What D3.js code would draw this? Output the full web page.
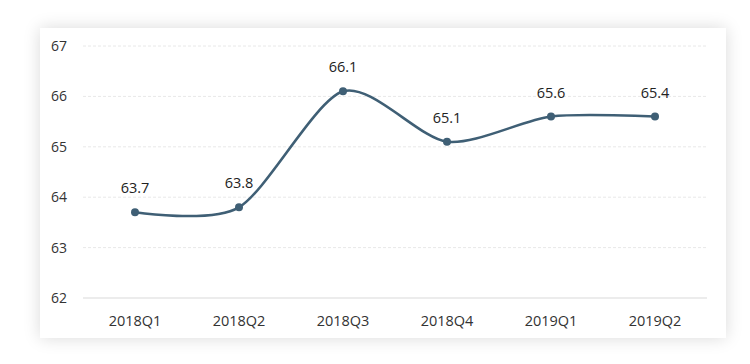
<!DOCTYPE html>
<html>
<head>
<meta charset="utf-8">
<script src="https://cdn.jsdelivr.net/npm/d3@7"></script>
<style>
  body { margin: 0; background: #fff; font-family: "Segoe UI", "Open Sans", "Noto Sans", sans-serif; }
  .card {
    position: absolute; left: 40px; top: 28px; width: 686px; height: 310px;
    background: #fff; box-shadow: 0 0 16px rgba(0,0,0,0.15);
  }
  svg { position: absolute; left: 0; top: 0; }
</style>
</head>
<body>
<div class="card"></div>
<svg id="chart" width="750" height="364"></svg>
<script>
// quarters and values
const quarters = ['2018Q1', '2018Q2', '2018Q3', '2018Q4', '2019Q1', '2019Q2'];
const values = [63.7, 63.8, 66.1, 65.1, 65.6, 65.6];
const labels = ['63.7', '63.8', '66.1', '65.1', '65.6', '65.4'];
const yTicks = [62, 63, 64, 65, 66, 67];

const svg = d3.select('#chart');
const plotLeft = 83, plotRight = 707, plotTop = 46, plotBottom = 298;

const x = d3.scaleBand().domain(quarters).range([plotLeft, plotRight]);
const y = d3.scaleLinear().domain([62, 67]).range([plotBottom, plotTop]);

// grid lines
svg.append('g').selectAll('line').data(yTicks).enter().append('line')
  .attr('x1', plotLeft).attr('x2', plotRight)
  .attr('y1', d => y(d)).attr('y2', d => y(d))
  .attr('stroke', d => d === 62 ? '#d9d9d9' : '#e8e8e8')
  .attr('stroke-dasharray', d => d === 62 ? null : '3,2');

// y labels
svg.append('g').selectAll('text').data(yTicks).enter().append('text')
  .attr('x', 67).attr('y', d => y(d)).attr('dy', '0.35em')
  .attr('text-anchor', 'end')
  .attr('font-size', 14).attr('fill', '#333')
  .text(d => d);

// x labels
svg.append('g').selectAll('text').data(quarters).enter().append('text')
  .attr('x', d => x(d) + x.bandwidth() / 2).attr('y', 321).attr('dy', '0.35em')
  .attr('text-anchor', 'middle')
  .attr('font-size', 14.5).attr('fill', '#333')
  .text(d => d);

const pts = quarters.map((q, i) => [x(q) + x.bandwidth() / 2, y(values[i])]);

const line = d3.line().curve(d3.curveCardinal.tension(0.2));
svg.append('path').attr('d', line(pts))
  .attr('fill', 'none').attr('stroke', '#3f5f75').attr('stroke-width', 2.6);

svg.append('g').selectAll('circle').data(pts).enter().append('circle')
  .attr('cx', d => d[0]).attr('cy', d => d[1]).attr('r', 4)
  .attr('fill', '#3f5f75');

svg.append('g').selectAll('text').data(pts).enter().append('text')
  .attr('x', d => d[0]).attr('y', d => d[1] - 24).attr('dy', '0.35em')
  .attr('text-anchor', 'middle')
  .attr('font-size', 14.5).attr('fill', '#222')
  .text((d, i) => labels[i]);
</script>
</body>
</html>
